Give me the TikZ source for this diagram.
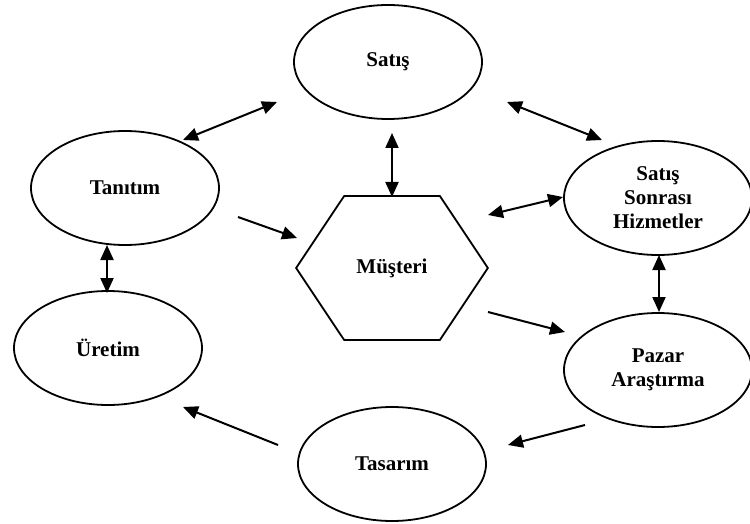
\documentclass[tikz,border=0pt]{standalone}
\usepackage{fontspec}
\setmainfont{Liberation Serif}
\usetikzlibrary{shapes.geometric,arrows.meta,positioning}

\tikzset{
    oval/.style={ellipse, draw, line width=0.9pt, minimum width=94pt, minimum height=57pt,
        inner sep=0pt, align=center, font=\bfseries\fontsize{10.5}{12}\selectfont},
    hexa/.style={rectangle, minimum width=95.5pt, minimum height=71.5pt, inner sep=0pt,
        font=\bfseries\fontsize{10.5}{12}\selectfont},
    link/.style={line width=1pt, -{Triangle[length=7.5pt,width=6.5pt]}},
    bilink/.style={line width=1pt, {Triangle[length=7.5pt,width=6.5pt]}-{Triangle[length=7.5pt,width=6.5pt]}}
}

\begin{document}
\begin{tikzpicture}[x=0.5pt,y=-0.5pt]
    \useasboundingbox (0,0) rectangle (750,524);

    % Ovals
    \node[oval] (satis) at (388,62) {Satış};
    \node[oval] (tanitim) at (125,188) {Tanıtım};
    \node[oval] (uretim) at (108,348) {Üretim};
    \node[oval] (sonrasi) at (658,198) {Satış\\Sonrası\\Hizmetler};
    \node[oval] (pazar) at (658,370) {Pazar\\Araştırma};
    \node[oval] (tasarim) at (392,464) {Tasarım};

    % Hexagon in the middle
    \node[hexa] (musteri) at (392,268) {Müşteri};
    \draw[line width=0.9pt] (musteri.west) -- ([xshift=24pt]musteri.north west)
        -- ([xshift=-24pt]musteri.north east) -- (musteri.east)
        -- ([xshift=-24pt]musteri.south east) -- ([xshift=24pt]musteri.south west) -- cycle;

    % Arrow ends
    \coordinate (st1) at (277,102);  \coordinate (st2) at (183,140);
    \coordinate (sm1) at (392,133);  \coordinate (sm2) at (392,197);
    \coordinate (ss1) at (507,102);  \coordinate (ss2) at (602,140);
    \coordinate (ms1) at (488,215);  \coordinate (ms2) at (563,197);
    \coordinate (sp1) at (659,255);  \coordinate (sp2) at (659,312);
    \coordinate (mp1) at (488,312);  \coordinate (mp2) at (565,332);
    \coordinate (pt1) at (585,425);  \coordinate (pt2) at (508,445);
    \coordinate (tu1) at (278,445);  \coordinate (tu2) at (183,407);
    \coordinate (tn1) at (107,245);  \coordinate (tn2) at (107,293);
    \coordinate (tm1) at (238,217);  \coordinate (tm2) at (297,238);

    % Two-way arrows
    \foreach \a/\b in {st1/st2, sm1/sm2, ss1/ss2, ms1/ms2, sp1/sp2, tn1/tn2} {
        \draw[bilink] (\a) -- (\b);
    }

    % One-way arrows
    \foreach \a/\b in {mp1/mp2, pt1/pt2, tu1/tu2, tm1/tm2} {
        \draw[link] (\a) -- (\b);
    }
\end{tikzpicture}
\end{document}
